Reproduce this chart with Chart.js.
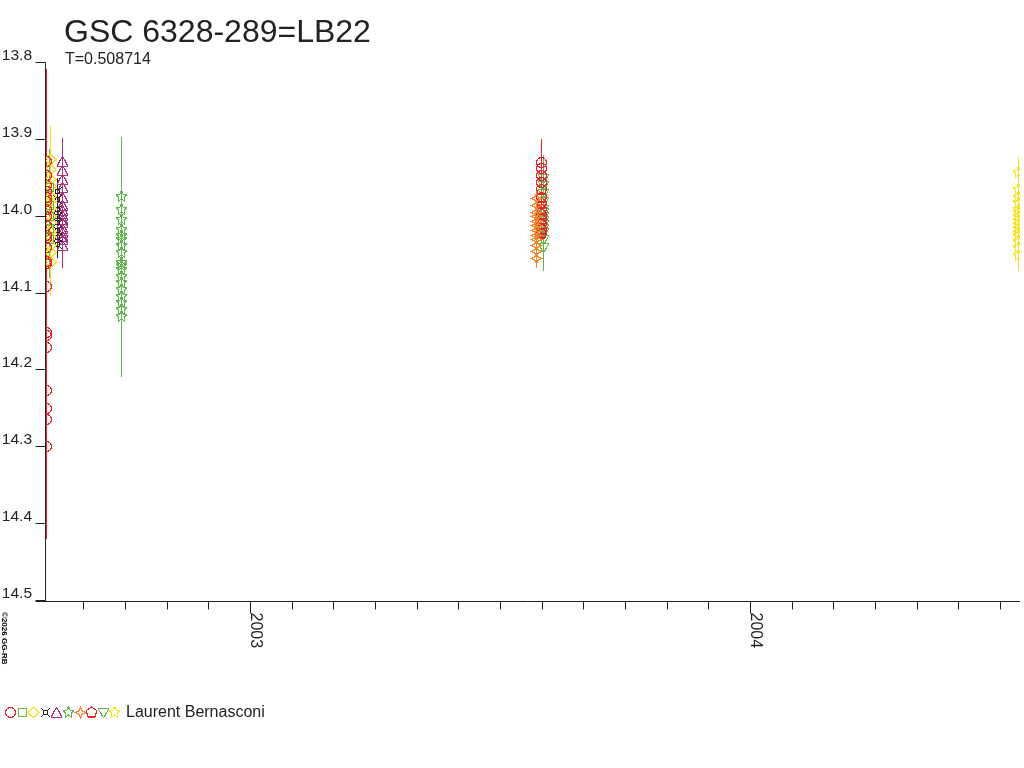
<!DOCTYPE html>
<html>
<head>
<meta charset="utf-8">
<script src="https://cdn.jsdelivr.net/npm/chart.js@4/dist/chart.umd.min.js"></script>
<style>
html,body{margin:0;padding:0;background:#fff;}
canvas{display:block;}
</style>
</head>
<body>
<canvas id="c" width="1024" height="768"></canvas>
<script>
// ---------- DATA ----------
const titleText = 'GSC 6328-289=LB22';
const subtitleText = 'T=0.508714';
const observerName = 'Laurent Bernasconi';
const copyrightText = '\u00A92026 GG-RB';

const yTickValues = [13.8, 13.9, 14.0, 14.1, 14.2, 14.3, 14.4, 14.5];
const yTickLabels = ['13.8', '13.9', '14.0', '14.1', '14.2', '14.3', '14.4', '14.5'];
const yearTickValues = [2003, 2004];
const yearTickLabels = ['2003', '2004'];

// red circles (first night)
const redCircleA_x = 2002.592;
const redCircleA_y = [13.928, 13.946, 13.959, 13.967, 13.975, 13.980, 13.991, 14.000, 14.012, 14.024, 14.028, 14.040, 14.058, 14.061, 14.091, 14.151, 14.155, 14.170, 14.226, 14.250, 14.264, 14.299];
const redCircleA_err = 0.12;
// green squares
const greenSquare_x = 2002.598;
const greenSquare_y = [13.962, 13.985, 14.000, 14.015, 14.030];
const greenSquare_err = 0.05;
// yellow diamonds
const yellowDiamond_x = 2002.600;
const yellowDiamond_y = [13.925, 13.939, 13.952, 13.961, 13.974, 13.980, 13.989, 14.000, 14.008, 14.019, 14.026, 14.037, 14.047, 14.060];
const yellowDiamond_err = 0.043;
// black crossed squares
const blackMark_x = 2002.614;
const blackMark_y = [13.967, 13.978, 13.990, 14.000, 14.008, 14.018, 14.027, 14.036];
const blackMark_err = 0.018;
// purple triangles
const purpleTri_x = 2002.624;
const purpleTri_y = [13.928, 13.940, 13.952, 13.962, 13.975, 13.985, 13.992, 13.998, 14.003, 14.008, 14.015, 14.020, 14.026, 14.030, 14.037];
const purpleTri_err = 0.03;
// green stars
const greenStar_x = 2002.742;
const greenStar_y = [13.974, 13.991, 14.004, 14.017, 14.024, 14.030, 14.037, 14.047, 14.060, 14.064, 14.069, 14.078, 14.086, 14.095, 14.104, 14.112, 14.121, 14.130];
const greenStar_err = 0.078;
// orange 4-point stars
const orangeStar_x = 2003.572;
const orangeStar_y = [13.976, 13.985, 13.995, 14.000, 14.006, 14.012, 14.018, 14.024, 14.030, 14.037, 14.045, 14.054];
const orangeStar_err = 0.013;
// red circles (second season)
const redCircleB_x = 2003.582;
const redCircleB_y = [13.929, 13.937, 13.946, 13.956];
const redCircleB_err = 0.03;
// red pentagons
const redPent_x = 2003.582;
const redPent_y = [13.965, 13.975, 13.983, 13.990, 13.997, 14.004, 14.010, 14.017, 14.022];
const redPent_err = 0.012;
// green down triangles
const greenDown_x = 2003.586;
const greenDown_y = [13.950, 13.960, 13.970, 13.980, 13.990, 13.995, 14.000, 14.005, 14.010, 14.015, 14.020, 14.030, 14.040];
const greenDown_err = 0.03;
// yellow stars
const yellowStar_x = 2004.536;
const yellowStar_y = [13.942, 13.965, 13.975, 13.982, 13.990, 13.995, 14.000, 14.005, 14.010, 14.015, 14.020, 14.025, 14.032, 14.040, 14.050];
const yellowStar_err = 0.02;

// ---------- STYLE ----------
const C_RED = '#f0202a', C_GREEN = '#5cb946', C_YELLOW = '#f9e31c', C_BLACK = '#222222',
      C_PURPLE = '#ad2f80', C_ORANGE = '#f5842a', C_AXIS = '#222222';
const FONT = '"Liberation Sans", Arial, sans-serif';

function hexToRgb(h) {
  const n = parseInt(h.slice(1), 16);
  return [(n >> 16) & 255, (n >> 8) & 255, n & 255];
}

function makeMarker(shape, color) {
  const s = 13, c = document.createElement('canvas');
  c.width = s; c.height = s;
  const g = c.getContext('2d');
  g.strokeStyle = '#000'; g.lineWidth = 1;
  const cx = 6.5, cy = 6.5;
  g.beginPath();
  function poly(n, rOut, rIn, start) {
    const k = rIn ? n * 2 : n;
    for (let i = 0; i < k; i++) {
      const r = rIn ? (i % 2 === 0 ? rOut : rIn) : rOut;
      const a = start + i * 2 * Math.PI / k;
      const px = cx + r * Math.cos(a), py = cy + r * Math.sin(a);
      if (i === 0) g.moveTo(px, py); else g.lineTo(px, py);
    }
    g.closePath();
  }
  switch (shape) {
    case 'circle': g.arc(cx, cy, 5, 0, Math.PI * 2); break;
    case 'square': g.rect(2.5, 2.5, 8, 8); break;
    case 'diamond': g.moveTo(6.5, 1); g.lineTo(12, 6.5); g.lineTo(6.5, 12); g.lineTo(1, 6.5); g.closePath(); break;
    case 'xsquare':
      g.rect(4.5, 4.5, 4, 4);
      g.moveTo(2, 2); g.lineTo(4.5, 4.5); g.moveTo(11, 2); g.lineTo(8.5, 4.5);
      g.moveTo(2, 11); g.lineTo(4.5, 8.5); g.moveTo(11, 11); g.lineTo(8.5, 8.5);
      break;
    case 'triangle': g.moveTo(6.5, 1); g.lineTo(12, 11.5); g.lineTo(1, 11.5); g.closePath(); break;
    case 'triangleDown': g.moveTo(1, 2.5); g.lineTo(12, 2.5); g.lineTo(6.5, 12); g.closePath(); break;
    case 'star5': poly(5, 6, 2.6, -Math.PI / 2); break;
    case 'star4': poly(4, 6, 2.0, -Math.PI / 2); break;
    case 'pentagon': poly(5, 5.6, 0, -Math.PI / 2); break;
  }
  g.stroke();
  // make crisp (pixel-art look)
  const img = g.getImageData(0, 0, s, s), d = img.data, rgb = hexToRgb(color);
  for (let i = 0; i < d.length; i += 4) {
    const on = d[i + 3] >= 90;
    d[i] = rgb[0]; d[i + 1] = rgb[1]; d[i + 2] = rgb[2]; d[i + 3] = on ? 255 : 0;
  }
  g.putImageData(img, 0, 0);
  return c;
}

const seriesDefs = [
  { x: redCircleA_x, y: redCircleA_y, err: redCircleA_err, color: C_RED, shape: 'circle' },
  { x: greenSquare_x, y: greenSquare_y, err: greenSquare_err, color: C_GREEN, shape: 'square' },
  { x: yellowDiamond_x, y: yellowDiamond_y, err: yellowDiamond_err, color: C_YELLOW, shape: 'diamond' },
  { x: blackMark_x, y: blackMark_y, err: blackMark_err, color: C_BLACK, shape: 'xsquare' },
  { x: purpleTri_x, y: purpleTri_y, err: purpleTri_err, color: C_PURPLE, shape: 'triangle' },
  { x: greenStar_x, y: greenStar_y, err: greenStar_err, color: C_GREEN, shape: 'star5' },
  { x: orangeStar_x, y: orangeStar_y, err: orangeStar_err, color: C_ORANGE, shape: 'star4' },
  { x: redCircleB_x, y: redCircleB_y, err: redCircleB_err, color: C_RED, shape: 'circle' },
  { x: redPent_x, y: redPent_y, err: redPent_err, color: C_RED, shape: 'pentagon' },
  { x: greenDown_x, y: greenDown_y, err: greenDown_err, color: C_GREEN, shape: 'triangleDown' },
  { x: yellowStar_x, y: yellowStar_y, err: yellowStar_err, color: C_YELLOW, shape: 'star5' }
];
const legendShapes = [
  ['circle', C_RED], ['square', C_GREEN], ['diamond', C_YELLOW], ['xsquare', C_BLACK], ['triangle', C_PURPLE],
  ['star5', C_GREEN], ['star4', C_ORANGE], ['pentagon', C_RED], ['triangleDown', C_GREEN], ['star5', C_YELLOW]
];

const datasets = seriesDefs.map(s => ({
  data: s.y.map(v => ({ x: s.x, y: v })),
  errs: s.y.map(() => s.err),
  pointStyle: makeMarker(s.shape, s.color),
  pointRadius: 6,
  borderColor: s.color,
  backgroundColor: 'rgba(0,0,0,0)',
  showLine: false,
  errColor: s.color
}));

const errorBarPlugin = {
  id: 'errorbars',
  beforeDatasetsDraw(chart) {
    const ctx = chart.ctx, xs = chart.scales.x, ys = chart.scales.y;
    ctx.save();
    ctx.lineWidth = 1;
    chart.data.datasets.forEach(ds => {
      ctx.strokeStyle = ds.errColor;
      ds.data.forEach((p, i) => {
        const px = Math.round(xs.getPixelForValue(p.x)) + 0.5;
        const y1 = Math.round(ys.getPixelForValue(p.y - ds.errs[i]));
        const y2 = Math.round(ys.getPixelForValue(p.y + ds.errs[i]));
        ctx.beginPath(); ctx.moveTo(px, y1); ctx.lineTo(px, y2); ctx.stroke();
      });
    });
    ctx.restore();
    ctx.imageSmoothingEnabled = false;
  }
};

const decorPlugin = {
  id: 'decor',
  afterDraw(chart) {
    const ctx = chart.ctx, xs = chart.scales.x, ys = chart.scales.y, ca = chart.chartArea;
    ctx.save();
    ctx.imageSmoothingEnabled = false;
    ctx.strokeStyle = C_AXIS; ctx.fillStyle = C_AXIS; ctx.lineWidth = 1;
    const ax = Math.round(ca.left) + 0.5, ay = Math.round(ca.bottom) + 0.5;
    // y axis line
    ctx.beginPath(); ctx.moveTo(ax, Math.round(ys.getPixelForValue(13.8)) - 0.5); ctx.lineTo(ax, ay); ctx.stroke();
    // y ticks + labels
    ctx.font = '15.5px ' + FONT; ctx.textAlign = 'right'; ctx.textBaseline = 'alphabetic';
    yTickValues.forEach((v, i) => {
      const py = Math.round(ys.getPixelForValue(v)) - 0.5;
      ctx.beginPath(); ctx.moveTo(ax - 10, py); ctx.lineTo(ax, py); ctx.stroke();
      ctx.fillText(yTickLabels[i], 32, py - 3);
    });
    // x axis line
    ctx.beginPath(); ctx.moveTo(ax - 10, ay); ctx.lineTo(Math.round(ca.right), ay); ctx.stroke();
    // month ticks
    for (let k = Math.ceil(xs.min * 12 - 1e-6); k <= Math.floor(xs.max * 12 + 1e-6); k++) {
      const v = k / 12;
      const px = Math.round(xs.getPixelForValue(v)) + 0.5;
      const isYear = k % 12 === 0;
      ctx.beginPath(); ctx.moveTo(px, ay); ctx.lineTo(px, ay + (isYear ? 12 : 8)); ctx.stroke();
    }
    // year labels (rotated clockwise)
    ctx.font = '16px ' + FONT; ctx.textAlign = 'left'; ctx.textBaseline = 'alphabetic';
    yearTickValues.forEach((v, i) => {
      const px = Math.round(xs.getPixelForValue(v)) + 1;
      ctx.save(); ctx.translate(px, ay + 11); ctx.rotate(Math.PI / 2);
      ctx.fillText(yearTickLabels[i], 0, 0); ctx.restore();
    });
    // title & subtitle
    ctx.fillStyle = '#222';
    ctx.font = '32px ' + FONT; ctx.fillText(titleText, 64, 42);
    ctx.font = '16px ' + FONT; ctx.fillText(subtitleText, 65, 64);
    // copyright
    ctx.save(); ctx.translate(2, 612); ctx.rotate(Math.PI / 2);
    ctx.font = 'bold 8px ' + FONT; ctx.fillStyle = '#000'; ctx.fillText(copyrightText, 0, 0); ctx.restore();
    // legend
    let lx = 4;
    legendShapes.forEach(([shape, color]) => {
      const m = makeMarker(shape, color);
      ctx.drawImage(m, Math.round(lx), 706);
      lx += 11.6;
    });
    ctx.fillStyle = '#222'; ctx.font = '16px ' + FONT; ctx.textAlign = 'left';
    ctx.fillText(observerName, 126, 717);
    ctx.restore();
  }
};

new Chart(document.getElementById('c'), {
  type: 'scatter',
  data: { datasets },
  options: {
    responsive: false,
    animation: false,
    devicePixelRatio: 1,
    events: [],
    layout: { autoPadding: false, padding: { left: 45, top: 63, right: 4, bottom: 167 } },
    plugins: { legend: { display: false }, tooltip: { enabled: false } },
    scales: {
      x: { type: 'linear', display: false, min: 2002.59, max: 2004.54 },
      y: { type: 'linear', display: false, min: 13.8, max: 14.5, reverse: true }
    }
  },
  plugins: [errorBarPlugin, decorPlugin]
});
</script>
</body>
</html>
